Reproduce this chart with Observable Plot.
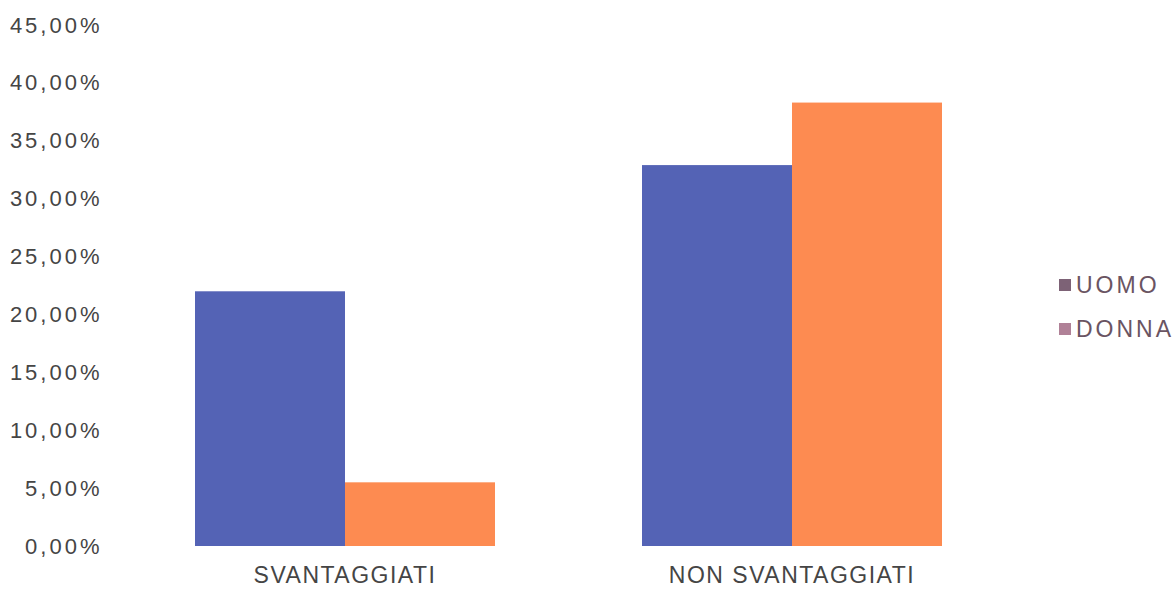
<!DOCTYPE html>
<html>
<head>
<meta charset="utf-8">
<script src="https://cdn.jsdelivr.net/npm/d3@7"></script>
<script src="https://cdn.jsdelivr.net/npm/@observablehq/plot@0.6"></script>
<style>
  html, body { margin: 0; padding: 0; background: #fff; }
  #wrap { position: relative; width: 1176px; height: 590px; }
  #legend { position: absolute; left: 1059px; top: 263px; font-family: "Liberation Sans", Arial, sans-serif; font-size: 23px; letter-spacing: 3px; color: #6a5462; white-space: nowrap; }
  .item { display: flex; align-items: center; height: 44px; }
  .sw { width: 12px; height: 12px; margin-right: 5px; }
  .yax text { font-size: 22px; letter-spacing: 3px; }
  .fxax text { font-size: 23px; letter-spacing: 1.5px; }
</style>
</head>
<body>
<div id="wrap"><div id="chart"></div><div id="legend"></div></div>
<script>
const categories = ["SVANTAGGIATI", "NON SVANTAGGIATI"];
const series = ["UOMO", "DONNA"];
const uomo = [22.0, 32.9];
const donna = [5.5, 38.3];
const yTicks = [0, 5, 10, 15, 20, 25, 30, 35, 40, 45];
const colors = ["#5463b5", "#fd8b51"];
const legendColors = ["#7d6276", "#b08197"];

const rows = [];
categories.forEach((c, i) => {
  rows.push({group: c, sex: series[0], value: uomo[i]});
  rows.push({group: c, sex: series[1], value: donna[i]});
});

const fmt = d => d.toFixed(2).replace(".", ",") + "%";

const chart = Plot.plot({
  width: 1176,
  height: 590,
  marginLeft: 121,
  marginRight: 161,
  marginTop: 25,
  marginBottom: 44,
  style: {fontFamily: "'Liberation Sans', Arial, sans-serif", fontSize: "22px", color: "#454545"},
  fx: {domain: categories, padding: 0, label: null},
  x: {domain: series, paddingInner: 0, paddingOuter: 0.49, axis: null},
  y: {domain: [0, 45], label: null, axis: null},
  color: {domain: series, range: colors},
  marks: [
    Plot.axisY(yTicks, {tickFormat: fmt, tickSize: 0, tickPadding: 19, className: "yax", label: null}),
    Plot.axisFx({anchor: "bottom", tickSize: 0, tickPadding: 20, className: "fxax", label: null}),
    Plot.barY(rows, {fx: "group", x: "sex", y: "value", fill: "sex", inset: 0})
  ]
});
document.getElementById("chart").appendChild(chart);

const legend = document.getElementById("legend");
series.forEach((s, i) => {
  const item = document.createElement("div");
  item.className = "item";
  const sw = document.createElement("span");
  sw.className = "sw";
  sw.style.background = legendColors[i];
  const t = document.createElement("span");
  t.textContent = s;
  item.appendChild(sw);
  item.appendChild(t);
  legend.appendChild(item);
});
</script>
</body>
</html>
